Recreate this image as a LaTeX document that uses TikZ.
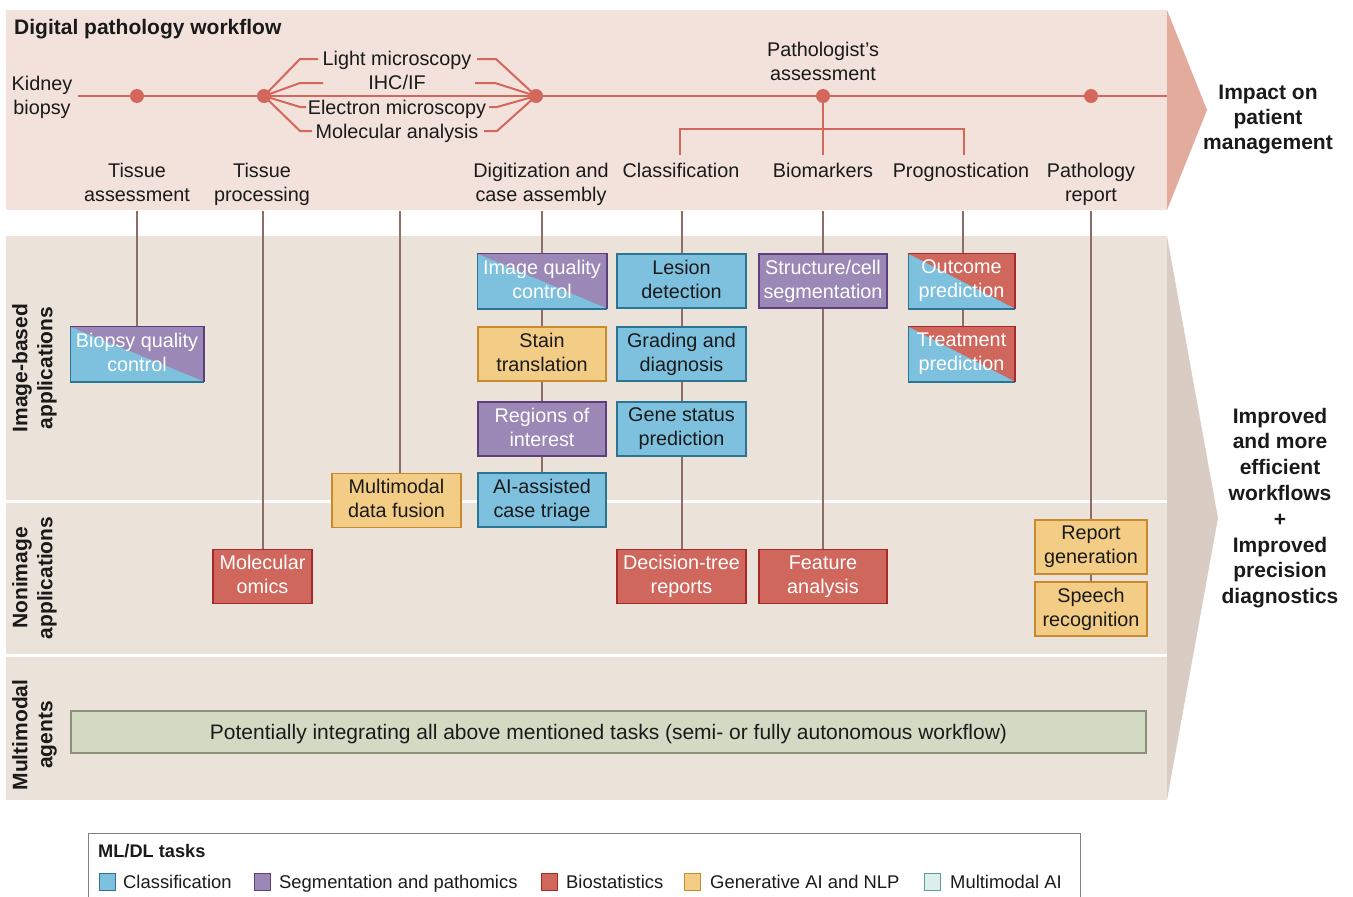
\documentclass[tikz,border=0pt]{standalone}
\usepackage{fontspec}
\setmainfont{Liberation Sans}
\pgfdeclarelayer{back}
\pgfdeclarelayer{mid}
\pgfsetlayers{back,mid,main}
\definecolor{bandtop}{HTML}{F2E2DB}
\definecolor{bandlow}{HTML}{EBE3D9}
\definecolor{tritop}{HTML}{E3AB9B}
\definecolor{trilow}{HTML}{D9CCC3}
\definecolor{tline}{HTML}{D4675B}
\definecolor{conn}{HTML}{8D6E66}
\definecolor{cblue}{HTML}{7EC1DF}
\definecolor{cbluebd}{HTML}{2B7592}
\definecolor{cpurp}{HTML}{9B88B6}
\definecolor{cpurpbd}{HTML}{5C3F7C}
\definecolor{cred}{HTML}{D0675C}
\definecolor{credbd}{HTML}{A6282B}
\definecolor{cyel}{HTML}{F3CD86}
\definecolor{cyelbd}{HTML}{C98A2D}
\definecolor{cmm}{HTML}{DCEFEC}
\definecolor{cmmbd}{HTML}{5E9A9A}
\definecolor{cgreen}{HTML}{D3DAC3}
\definecolor{cgreenbd}{HTML}{8A9076}
\definecolor{txt}{HTML}{1A1A1A}
\newcommand\fs{\fontsize{19.8}{24}\selectfont}
\newcommand\fb{\fontsize{21}{25}\selectfont\bfseries}
\newcommand\fl{\fontsize{18.4}{21}\selectfont}
\newcommand\topst{\rule{0pt}{20pt}}
\newcommand\botst{\rule[-4pt]{0pt}{4pt}}
\begin{document}
\begin{tikzpicture}[x=1pt,y=-1pt,
  lab/.style={align=center,inner sep=0pt,font=\fs,text=txt,
     execute at begin node=\strut, execute at end node=\strut},
  dot/.style={circle,fill=tline,minimum size=14pt,inner sep=0pt},
  tl/.style={draw=tline,line width=2.4pt},
  tlt/.style={draw=tline,line width=2pt},
  cn/.style={draw=conn,line width=2pt},
  box/.style={minimum height=54pt,align=center,inner sep=0pt,font=\fs,line width=1.5pt,
     execute at begin node=\topst, execute at end node=\botst},
  bluebox/.style={box,fill=cblue,draw=cbluebd,text=txt},
  purpbox/.style={box,fill=cpurp,draw=cpurpbd,text=white},
  redbox/.style={box,fill=cred,draw=credbd,text=white},
  yelbox/.style={box,fill=cyel,draw=cyelbd,text=txt},
  splitbp/.style={box,text=white,path picture={
     \fill[cblue] (path picture bounding box.south west) rectangle (path picture bounding box.north east);
     \fill[cpurp] (path picture bounding box.north west) -- (path picture bounding box.north east) -- (path picture bounding box.south east) -- cycle;}},
  splitbr/.style={box,text=white,path picture={
     \fill[cblue] (path picture bounding box.south west) rectangle (path picture bounding box.north east);
     \fill[cred] (path picture bounding box.north west) -- (path picture bounding box.north east) -- (path picture bounding box.south east) -- cycle;}},
  rowlab/.style={align=center,inner sep=0pt,font=\fb,text=txt,rotate=90,
     execute at begin node=\strut, execute at end node=\strut},
  legsq/.style={minimum width=16pt,minimum height=17pt,inner sep=0pt,line width=1.3pt},
  legtx/.style={anchor=base west,inner sep=0pt,font=\fl,text=txt}
]
\useasboundingbox (0,0) rectangle (1353,897);

% ---------- backgrounds ----------
\begin{pgfonlayer}{back}
  \fill[bandtop] (6,10) rectangle (1167,210);
  \fill[tritop] (1167,10) -- (1207,110) -- (1167,210) -- cycle;
  \fill[bandlow] (6,236) rectangle (1167,800);
  \fill[trilow] (1167,236) -- (1218,518) -- (1167,800) -- cycle;
  \draw[white,line width=3pt] (6,501.5) -- (1167,501.5);
  \draw[white,line width=3pt] (6,655.5) -- (1167,655.5);
\end{pgfonlayer}

% ---------- top timeline ----------
\node[anchor=base west,inner sep=0pt,font=\fb,text=txt] (title) at (14,34) {Digital pathology workflow};
\node[lab] (kb) at (42,99.2) {Kidney\\biopsy};
\coordinate (ls) at (78,96);
\coordinate (le) at (1167,96);
\node[dot] (d1) at (137,96) {};
\node[dot] (d2) at (264,96) {};
\node[dot] (d3) at (536,96) {};
\node[dot] (d4) at (823,96) {};
\node[dot] (d5) at (1091,96) {};
\begin{pgfonlayer}{mid}
  \draw[tl] (ls) -- (le);
\end{pgfonlayer}

\node[lab] (m1) at (397,60.2) {Light microscopy};
\node[lab] (m2) at (397,84.2) {IHC/IF};
\node[lab] (m3) at (397,109.2) {Electron microscopy};
\node[lab] (m4) at (397,133.2) {Molecular analysis};
\coordinate (a1) at (300,59);  \coordinate (b1) at (318,59);
\coordinate (a2) at (300,83);  \coordinate (b2) at (323,83);
\coordinate (a3) at (300,107); \coordinate (b3) at (306,107);
\coordinate (a4) at (300,131); \coordinate (b4) at (312,131);
\coordinate (c1) at (477,59);  \coordinate (e1) at (496,59);
\coordinate (c2) at (475,83);  \coordinate (e2) at (495,83);
\coordinate (c3) at (489,107); \coordinate (e3) at (497,107);
\coordinate (c4) at (484,131); \coordinate (e4) at (497,131);
\begin{pgfonlayer}{mid}
  \foreach \i in {1,2,3,4}{
    \draw[tlt,line join=round] (d2.center) -- (a\i) -- (b\i);
    \draw[tlt,line join=round] (c\i) -- (e\i) -- (d3.center);
  }
\end{pgfonlayer}

\node[lab] (pa) at (823,65.2) {Pathologist's\\assessment};
\coordinate (pb) at (823,155);
\coordinate (pl) at (680,155);
\coordinate (plk) at (680,129);
\coordinate (prk) at (964,129);
\coordinate (pr) at (964,155);
\begin{pgfonlayer}{mid}
  \draw[tlt] (d4.center) -- (pb);
  \draw[tlt] (pl) -- (plk) -- (prk) -- (pr);
\end{pgfonlayer}

\node[lab] (s1) at (137,186) {Tissue\\assessment};
\node[lab] (s2) at (262,186) {Tissue\\processing};
\node[lab] (s3) at (541,186) {Digitization and\\case assembly};
\node[lab] (s4) at (681,172.2) {Classification};
\node[lab] (s5) at (823,172.2) {Biomarkers};
\node[lab] (s6) at (961,172.2) {Prognostication};
\node[lab] (s7) at (1091,186) {Pathology\\report};

% ---------- right texts ----------
\node[align=center,inner sep=0pt,font=\fb,text=txt] (imp) at (1268,119.5) {Impact on\\patient\\management};
\node[align=center,inner sep=0pt,font=\fontsize{21}{25.8}\selectfont\bfseries,text=txt] (imp2) at (1280,508) {Improved\\and more\\efficient\\workflows\\+\\Improved\\precision\\diagnostics};

% ---------- row labels ----------
\node[rowlab] (r1) at (36,368) {Image-based\\applications};
\node[rowlab] (r2) at (36,578) {Nonimage\\applications};
\node[rowlab] (r3) at (36,735) {Multimodal\\agents};

% ---------- boxes ----------
\node[splitbp,minimum width=132pt] (bqc) at (137,354) {Biopsy quality\\control};
\node[redbox,minimum width=99pt] (mo) at (262.5,576.5) {Molecular\\omics};
\node[yelbox,minimum width=129pt] (mdf) at (396.5,500.5) {Multimodal\\data fusion};

\node[splitbp,minimum width=128pt] (iqc) at (542,281) {Image quality\\control};
\node[yelbox,minimum width=128pt] (st) at (542,354) {Stain\\translation};
\node[purpbox,minimum width=128pt] (roi) at (542,429) {Regions of\\interest};
\node[bluebox,minimum width=128pt] (tri) at (542,500) {AI-assisted\\case triage};

\node[bluebox,minimum width=129pt] (les) at (681.5,281) {Lesion\\detection};
\node[bluebox,minimum width=129pt] (grd) at (681.5,354) {Grading and\\diagnosis};
\node[bluebox,minimum width=129pt] (gen) at (681.5,429) {Gene status\\prediction};
\node[redbox,minimum width=129pt] (dt) at (681.5,576.5) {Decision-tree\\reports};

\node[purpbox,minimum width=128pt] (seg) at (823,281) {Structure/cell\\segmentation};
\node[redbox,minimum width=128pt] (fa) at (823,576.5) {Feature\\analysis};

\node[splitbr,minimum width=105pt] (out) at (961.5,281) {Outcome\\prediction};
\node[splitbr,minimum width=105pt] (trt) at (961.5,354) {Treatment\\prediction};

\node[yelbox,minimum width=112pt] (rep) at (1091,547) {Report\\generation};
\node[yelbox,minimum width=112pt] (sp) at (1091,609) {Speech\\recognition};

\node[box,fill=cgreen,draw=cgreenbd,text=txt,minimum width=1075pt,minimum height=42pt,font=\fontsize{21}{25}\selectfont] (agent) at (608.5,732) {Potentially integrating all above mentioned tasks (semi- or fully autonomous workflow)};

% split box borders
\foreach \n/\c in {bqc/cpurpbd,iqc/cpurpbd,out/credbd,trt/credbd}{
  \draw[cbluebd,line width=1.5pt] (\n.north west) -- (\n.south west) -- (\n.south east);
  \draw[\c,line width=1.5pt] (\n.north west) -- (\n.north east) -- (\n.south east);
}

% ---------- vertical connectors ----------
\coordinate (t1) at (137,211);
\coordinate (t2) at (262.5,211);
\coordinate (t3) at (400,211);
\coordinate (t4) at (542,211);
\coordinate (t5) at (681.5,211);
\coordinate (t6) at (823,211);
\coordinate (t7) at (963,211);
\coordinate (t8) at (1091,211);
\begin{pgfonlayer}{mid}
  \draw[cn] (t1) -- (bqc.north);
  \draw[cn] (t2) -- (mo.north);
  \draw[cn] (t3) -- (t3 |- mdf.north);
  \draw[cn] (t4) -- (tri.north);
  \draw[cn] (t5) -- (dt.north);
  \draw[cn] (t6) -- (fa.north);
  \draw[cn] (t7) -- (t7 |- trt.north);
  \draw[cn] (t8) -- (rep.north);
  \draw[cn] (rep.south) -- (sp.north);
\end{pgfonlayer}

% ---------- legend ----------
\draw[draw=black!50,line width=1pt] (88,900) -- (88,833) -- (1080,833) -- (1080,900);
\node[anchor=base west,inner sep=0pt,font=\fontsize{18.2}{21}\selectfont\bfseries,text=txt] (lt) at (98,857) {ML/DL tasks};
\node[legsq,fill=cblue,draw=cbluebd] (q1) at (107.5,882) {};
\node[legtx] (x1) at (123,888.5) {Classification};
\node[legsq,fill=cpurp,draw=cpurpbd] (q2) at (262.5,882) {};
\node[legtx] (x2) at (279,888.5) {Segmentation and pathomics};
\node[legsq,fill=cred,draw=credbd] (q3) at (549.5,882) {};
\node[legtx] (x3) at (566,888.5) {Biostatistics};
\node[legsq,fill=cyel,draw=cyelbd] (q4) at (692.5,882) {};
\node[legtx] (x4) at (710,888.5) {Generative AI and NLP};
\node[legsq,fill=cmm,draw=cmmbd] (q5) at (932.5,882) {};
\node[legtx] (x5) at (950,888.5) {Multimodal AI};
\end{tikzpicture}
\end{document}
